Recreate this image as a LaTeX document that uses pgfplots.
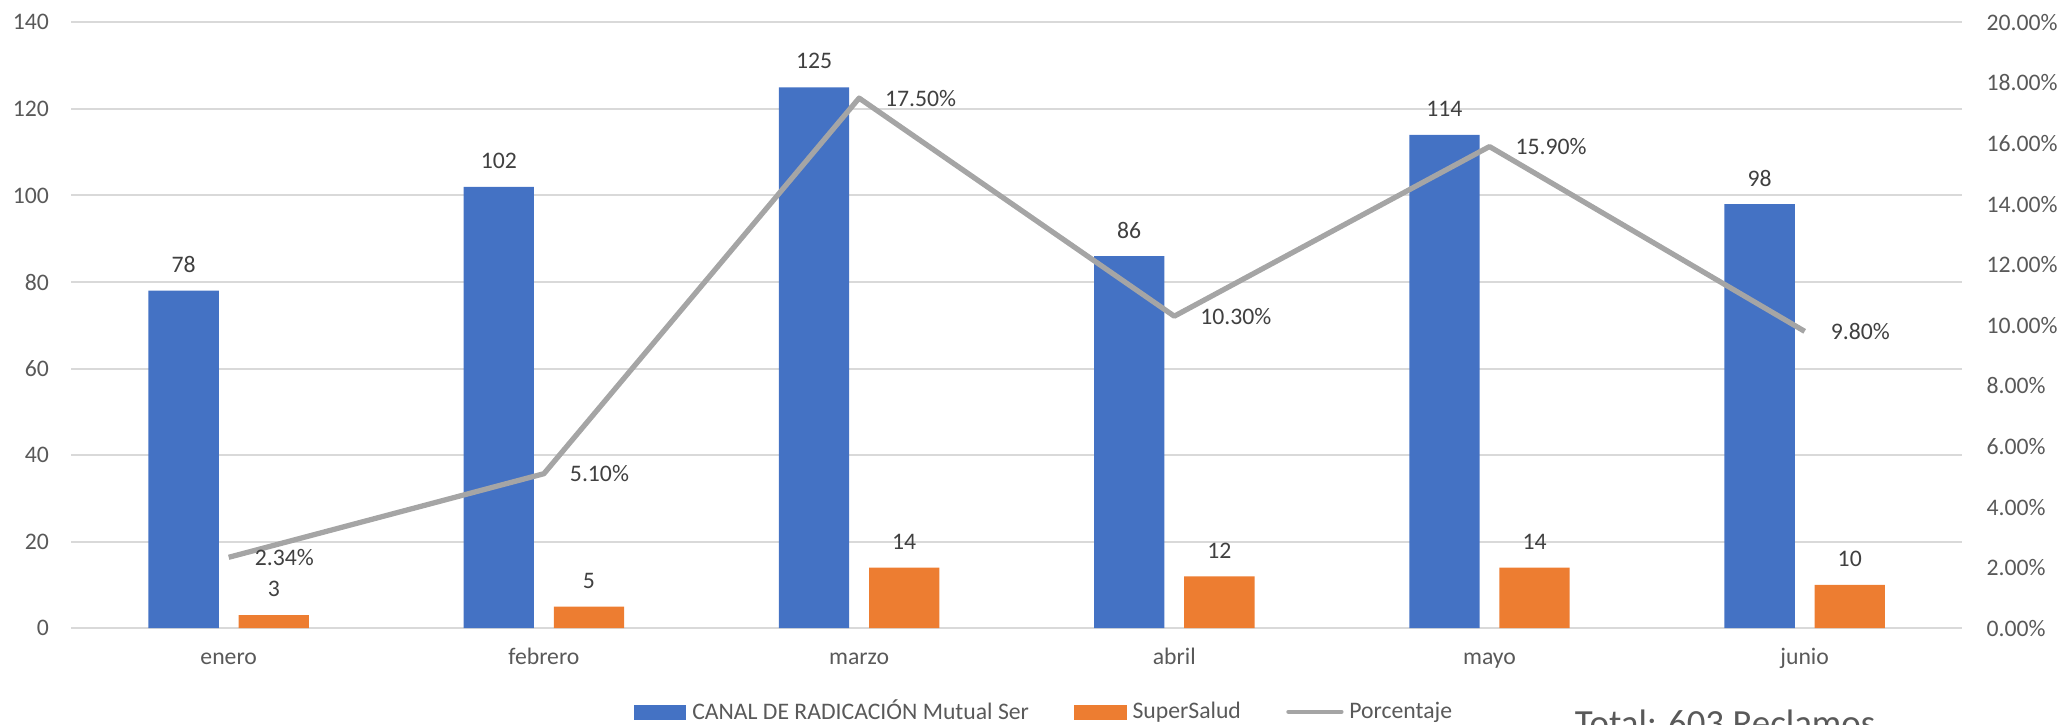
\documentclass[border=0pt]{standalone}
\usepackage{fontspec}
\setmainfont{Carlito}
\usepackage{pgfplots}
\usepackage{pgfplotstable}
\pgfplotsset{compat=1.18}

\definecolor{serblue}{HTML}{4472C4}
\definecolor{salorange}{HTML}{ED7D31}
\definecolor{pctgray}{HTML}{A5A5A5}
\definecolor{gridgray}{HTML}{D9D9D9}
\definecolor{labelgray}{HTML}{595959}
\definecolor{valuegray}{HTML}{404040}

% Reclamos por mes: canal Mutual Ser, SuperSalud y porcentaje
\pgfplotstableread{
idx canal super pct
0   78    3     2.34
1   102   5     5.10
2   125   14    17.50
3   86    12    10.30
4   114   14    15.90
5   98    10    9.80
}\datos

\begin{document}
\begin{tikzpicture}[font=\fontsize{9}{11}\selectfont]
\pgfplotsset{
  base/.style={
    scale only axis,
    width=718pt, height=230pt,
    xmin=-0.5, xmax=5.5,
    axis line style={draw=none},
    major tick length=0pt,
    tick label style={font=\fontsize{9}{11}\selectfont, text=labelgray},
    /pgf/number format/assume math mode=true,
  },
}
% Barras (eje izquierdo)
\begin{axis}[base,
  ymin=0, ymax=140, ytick distance=20,
  ymajorgrids,
  grid style={gridgray, line width=0.75pt},
  xtick=data,
  xticklabels={enero,febrero,marzo,abril,mayo,junio},
  xticklabel style={anchor=base, inner sep=0pt, yshift=-13.7pt},
  yticklabel style={anchor=east, inner sep=0pt, xshift=-8.25pt},
  ybar, bar width=0.223,
  nodes near coords,
  every node near coord/.append style={font=\fontsize{9}{11}\selectfont,
    text=valuegray, anchor=center, inner sep=0pt, yshift=9.85pt},
]
\addplot[fill=serblue, draw=none, bar shift=-0.143] table[x=idx, y=canal] {\datos};
\addplot[fill=salorange, draw=none, bar shift=0.143] table[x=idx, y=super] {\datos};
\end{axis}
% Porcentaje (eje derecho)
\begin{axis}[base,
  ymin=0, ymax=20, ytick distance=2,
  xtick=\empty,
  yticklabel pos=right,
  yticklabel style={anchor=west, inner sep=0pt, xshift=9pt},
  yticklabel={\pgfmathprintnumber[fixed, fixed zerofill, precision=2]{\tick}\%},
  legend columns=3,
  legend style={draw=none, fill=none, inner sep=0pt,
    at={(axis description cs:0.2974,-0.1176)}, anchor=north west,
    font=\fontsize{9}{11}\selectfont, text=labelgray,
    nodes={inner sep=0pt},
    column sep=2.2pt,
    /tikz/every even column/.append style={column sep=17.2pt}},
]
\addlegendimage{legend image code/.code={\fill[serblue] (0pt,-2.95pt) rectangle (19.5pt,2.35pt);}}
\addlegendentry{CANAL DE RADICACIÓN Mutual Ser}
\addlegendimage{legend image code/.code={\fill[salorange] (0pt,-2.95pt) rectangle (19.5pt,2.35pt);}}
\addlegendentry{SuperSalud}
\addplot[pctgray, line width=2pt, line join=round,
  nodes near coords={\pgfmathprintnumber[fixed, fixed zerofill, precision=2]{\pgfplotspointmeta}\%},
  every node near coord/.append style={font=\fontsize{9}{11}\selectfont,
    text=valuegray, anchor=west, inner sep=0pt, xshift=8.9pt},
  legend image code/.code={\draw[pctgray, line width=1.5pt, line cap=round] (0.75pt,0.05pt) -- (21pt,0.05pt);},
] table[x=idx, y=pct] {\datos};
\addlegendentry{Porcentaje}
\end{axis}
\node[anchor=base west, inner sep=0pt, font=\fontsize{14}{16}\selectfont, text=labelgray]
  at (570.75pt,-40.8pt) {Total: 603 Reclamos};
\pgfresetboundingbox
\useasboundingbox (-27pt,-36.5pt) rectangle (757pt,238.5pt);
\end{tikzpicture}
\end{document}
